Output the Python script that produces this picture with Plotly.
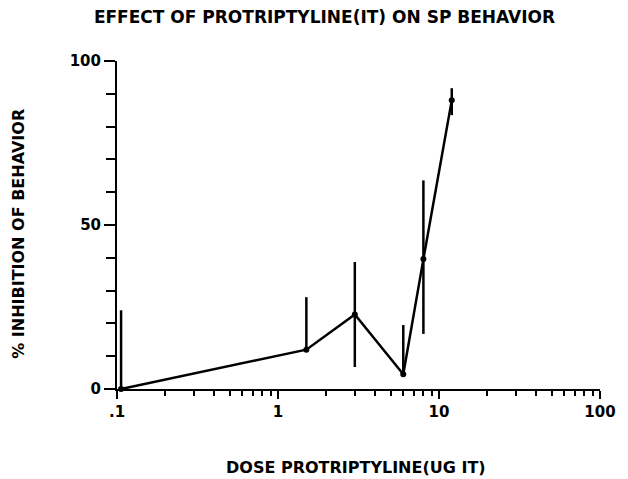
import plotly.graph_objects as go

# Data
dose = [0.106, 1.5, 3.0, 6.0, 8.0, 12.0]
inhibition = [0.0, 12.0, 22.7, 4.5, 39.6, 88.0]
err_plus = [24.0, 16.0, 16.0, 15.0, 24.0, 3.7]
err_minus = [0.0, 0.0, 16.0, 0.0, 22.8, 4.5]

x_tick_vals = [0.1, 1, 10, 100]
x_tick_text = [".1", "1", "10", "100"]
x_minor_vals = [m * d for d in (0.1, 1, 10) for m in range(2, 10)]
y_tick_vals = [0, 50, 100]
y_minor_vals = [10, 20, 30, 40, 60, 70, 80, 90]

FONT = "DejaVu Sans"
W, H = 620, 471  # page body adds an 8px offset inside the 628x479 window

fig = go.Figure()
fig.add_trace(go.Scatter(
    x=dose, y=inhibition, mode="lines+markers",
    line=dict(color="black", width=2.5),
    marker=dict(color="black", size=6),
    error_y=dict(type="data", symmetric=False, array=err_plus, arrayminus=err_minus,
                 color="black", thickness=2.5, width=0),
    cliponaxis=False, showlegend=False,
))

fig.update_layout(
    width=W, height=H,
    margin=dict(l=109, r=21, t=53, b=90),
    paper_bgcolor="white", plot_bgcolor="white",
    font=dict(family=FONT, color="black", size=15, weight="bold"),
    title=dict(text="EFFECT OF PROTRIPTYLINE(IT) ON SP BEHAVIOR",
               x=316.5 / W, xanchor="center", xref="container",
               y=1 - 9.5 / H, yanchor="middle", yref="container",
               font=dict(family=FONT, size=17, color="black", weight="bold")),
    xaxis=dict(type="log", range=[-1, 2], showgrid=False, zeroline=False,
               showline=True, linecolor="black", linewidth=2,
               ticks="outside", ticklen=8, tickwidth=2, tickcolor="black",
               tickvals=x_tick_vals, ticktext=x_tick_text,
               tickfont=dict(family=FONT, size=15, weight="bold"),
               minor=dict(tickmode="array", tickvals=x_minor_vals, ticks="outside",
                          ticklen=5, tickwidth=2, tickcolor="black", showgrid=False)),
    yaxis=dict(range=[0, 100], showgrid=False, zeroline=False,
               showline=True, linecolor="black", linewidth=2,
               ticks="outside", ticklen=11, tickwidth=2, tickcolor="black",
               tickvals=y_tick_vals, ticktext=[str(v) for v in y_tick_vals],
               tickfont=dict(family=FONT, size=15, weight="bold"),
               minor=dict(tickmode="array", tickvals=y_minor_vals, ticks="outside",
                          ticklen=9, tickwidth=2, tickcolor="black", showgrid=False)),
    annotations=[
        dict(text="DOSE PROTRIPTYLINE(UG IT)", xref="paper", yref="paper",
             x=0.494, y=-0.238, xanchor="center", yanchor="middle", showarrow=False,
             font=dict(family=FONT, size=16, weight="bold")),
        dict(text="% INHIBITION OF BEHAVIOR", xref="paper", yref="paper",
             x=-0.2033, y=0.4726, xanchor="center", yanchor="middle", showarrow=False,
             textangle=-90, font=dict(family=FONT, size=16, weight="bold")),
    ],
)

fig.write_html("out.html")
